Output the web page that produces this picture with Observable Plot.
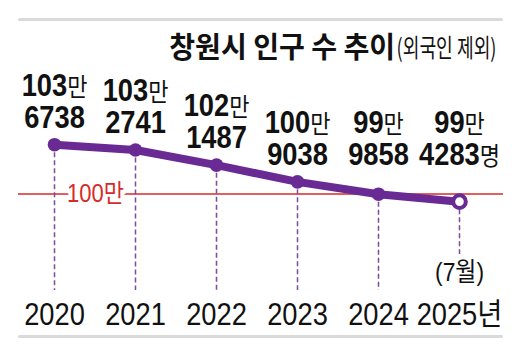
<!DOCTYPE html>
<html><head><meta charset="utf-8">
<script src="https://cdn.jsdelivr.net/npm/d3@7"></script>
<script src="https://cdn.jsdelivr.net/npm/@observablehq/plot@0.6"></script>
<style>
body{margin:0;background:#fff;}
#wrap{position:relative;width:520px;height:359px;overflow:hidden;background:#fff;}
.rule{position:absolute;left:18px;width:485px;height:3px;background:#dadada;border-radius:2px;}
#title{position:absolute;right:125px;top:26px;font:bold 29px "Noto Sans CJK KR";color:#111;white-space:nowrap;line-height:38px;transform-origin:right center;}
#sub{position:absolute;right:23px;top:27px;font:400 25px "Noto Sans CJK KR";color:#111;white-space:nowrap;transform-origin:right center;line-height:38px;}
#chart{position:absolute;left:0;top:0;}
</style></head><body>
<div id="wrap">
<div class="rule" style="top:18px"></div>
<div id="chart"></div>
<div id="title">창원시 인구 수 추이</div>
<div id="sub">(외국인 제외)</div>
<div class="rule" style="top:335px"></div>
</div>
<script>
const years = ["2020", "2021", "2022", "2023", "2024", "2025"];
const population = [1036738, 1032741, 1021487, 1009038, 999858, 994283];
const threshold = 1000000;
const thresholdLabel = "100만";
const lastNote = "(7월)";
const yearSuffix = "년";
const unitSuffix = "명";
const labelFloor = 1009038; // labels of later years sit at this level

const data = years.map((year, i) => ({
  year,
  pop: population[i],
  last: i === years.length - 1,
  label: `${Math.floor(population[i] / 10000)}만\n${String(population[i] % 10000).padStart(4, "0")}${i === years.length - 1 ? unitSuffix : ""}`
}));

const yDomain = [928100, 1040000];
const purple = "#6a2a94";
const dashPurple = "#7d4aa0";
const red = "#d62b2b";

const chart = Plot.plot({
  width: 520,
  height: 359,
  marginLeft: 53,
  marginRight: 61,
  marginTop: 0,
  marginBottom: 69,
  x: {type: "point", domain: years, padding: 0},
  y: {domain: yDomain, range: [290, 139.8], axis: null},
  style: {fontFamily: '"Liberation Sans","Noto Sans CJK KR",sans-serif', background: "transparent", overflow: "visible", color: "#111"},
  marks: [
    Plot.ruleY([threshold], {stroke: red, strokeWidth: 1.6, insetLeft: -35, insetRight: -44}),
    Plot.text([thresholdLabel], {x: () => years[0], y: () => threshold, text: d => d, dx: 41, fill: red, stroke: "white", strokeWidth: 9, paintOrder: "stroke", fontSize: 25}),
    Plot.ruleX(data.filter(d => !d.last), {x: "year", y1: "pop", y2: () => yDomain[0], stroke: dashPurple, strokeWidth: 1.5, strokeDasharray: "5,3"}),
    Plot.ruleX(data.filter(d => d.last), {x: "year", y1: "pop", y2: () => yDomain[0], insetBottom: 36, stroke: dashPurple, strokeWidth: 1.5, strokeDasharray: "5,3"}),
    Plot.line(data, {x: "year", y: "pop", stroke: purple, strokeWidth: 8, strokeLinejoin: "round"}),
    Plot.dot(data.filter(d => !d.last), {x: "year", y: "pop", r: 6.8, fill: purple}),
    Plot.dot(data.filter(d => d.last), {x: "year", y: "pop", r: 6.3, fill: "white", stroke: purple, strokeWidth: 4}),
    Plot.text(data, {x: "year", y: d => Math.max(d.pop, labelFloor), text: "label", lineAnchor: "bottom", dy: -17, fontSize: 31, fontWeight: "bold", lineHeight: 1.03, fill: "#111"}),
    Plot.text([lastNote], {x: () => years[years.length - 1], frameAnchor: "bottom", text: d => d, dy: -10, fontSize: 26, fill: "#111"}),
    Plot.axisX({tickSize: 0, tickPadding: 12, fontSize: 31, label: null, tickFormat: d => d === years[years.length - 1] ? d + yearSuffix : d, fill: "#111"})
  ]
});
document.getElementById("chart").appendChild(chart);

// condensed look: squeeze each text horizontally around its anchor
d3.select(chart).selectAll("text").each(function () {
  const tr = this.getAttribute("transform") || "";
  this.setAttribute("transform", tr + " scale(0.88,1)");
});
// shrink the Korean unit characters inside the value labels
d3.select(chart).selectAll("tspan").each(function () {
  const t = this.textContent;
  if (/[만명]/.test(t)) {
    this.innerHTML = t.replace(/([만명])/g, '<tspan style="font-size:25px;font-weight:normal">$1</tspan>');
  }
});
// fit the heading pieces to their widths in the original
function fitWidth(id, target) {
  const el = document.getElementById(id);
  const w = el.getBoundingClientRect().width;
  el.style.transform = `scaleX(${target / w})`;
}
fitWidth("title", 226);
fitWidth("sub", 100);
</script>
</body></html>
